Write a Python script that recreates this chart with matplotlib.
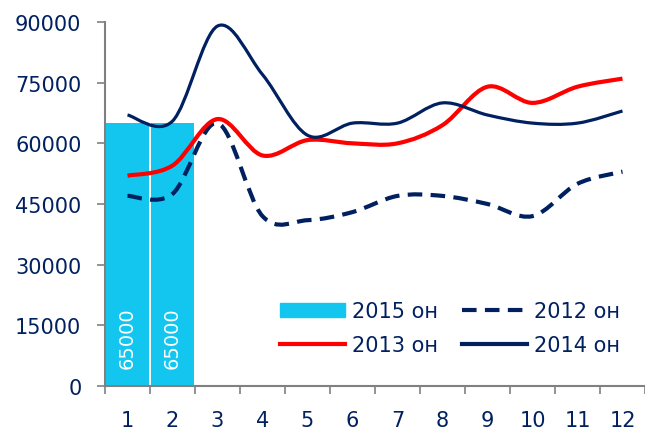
import matplotlib.pyplot as plt
import numpy as np
from matplotlib.path import Path
from matplotlib.patches import PathPatch, Patch
from matplotlib.lines import Line2D
from matplotlib.ticker import FixedLocator, NullFormatter

# Data
months = list(range(1, 13))
sales_2015 = [65000, 65000]
sales_2012 = [47000, 47500, 65000, 42000, 41000, 43000, 47000, 47000, 45000, 42000, 50000, 53000]
sales_2013 = [52000, 54500, 66000, 57000, 60800, 60000, 60000, 64500, 74000, 70000, 74000, 76000]
sales_2014 = [67000, 65500, 89000, 77000, 62000, 65000, 65000, 70000, 67000, 65000, 65000, 68000]
y_ticks = [0, 15000, 30000, 45000, 60000, 75000, 90000]

navy = '#002060'
cyan = '#13C6F0'
red = '#FF0000'

plt.rcParams['font.family'] = ['DejaVu Sans']


def smooth_path(xs, ys):
    # Excel style smoothed line: cubic bezier segments through the data points
    pts = np.column_stack([xs, ys]).astype(float)
    n = len(pts)
    verts = [pts[0]]
    codes = [Path.MOVETO]
    for i in range(n - 1):
        p0 = pts[i - 1] if i > 0 else pts[i]
        p1 = pts[i]
        p2 = pts[i + 1]
        p3 = pts[i + 2] if i + 2 < n else pts[i + 1]
        c1 = p1 + (p2 - p0) / 6
        c2 = p2 - (p3 - p1) / 6
        verts += [c1, c2, p2]
        codes += [Path.CURVE4] * 3
    return Path(verts, codes)


fig = plt.figure(figsize=(6.45, 4.31), dpi=100)
ax = fig.add_axes([105 / 645, 1 - 387 / 431, 540 / 645, 364 / 431])

bars = ax.bar(months[:2], sales_2015, width=0.94, color=cyan, zorder=1)
for b, v in zip(bars, sales_2015):
    ax.annotate(f'{v}', xy=(b.get_x() + b.get_width() / 2, 0), xytext=(0, 13),
                textcoords='offset points', rotation=90, ha='center', va='bottom',
                color='white', fontsize=14)

ax.add_patch(PathPatch(smooth_path(months, sales_2012), fill=False, edgecolor=navy,
                       lw=3, linestyle=(0, (3.5, 2)), zorder=3))
ax.add_patch(PathPatch(smooth_path(months, sales_2013), fill=False, edgecolor=red,
                       lw=3, zorder=3))
ax.add_patch(PathPatch(smooth_path(months, sales_2014), fill=False, edgecolor=navy,
                       lw=2.3, zorder=4))

ax.set_xlim(0.5, 12.5)
ax.set_ylim(0, 90000)

ax.xaxis.set_major_locator(FixedLocator(np.arange(0.5, 13, 1)))
ax.xaxis.set_major_formatter(NullFormatter())
ax.xaxis.set_minor_locator(FixedLocator(months))
ax.set_xticklabels([str(m) for m in months], minor=True)
ax.tick_params(axis='x', which='major', length=6, color='#808080', width=1.2)
ax.tick_params(axis='x', which='minor', length=0, pad=17, labelsize=15, labelcolor=navy)

ax.set_yticks(y_ticks)
ax.set_yticklabels([str(t) for t in y_ticks])
ax.tick_params(axis='y', length=6, color='#808080', width=1.2, pad=11,
               labelsize=15, labelcolor=navy)

for s in ['top', 'right']:
    ax.spines[s].set_visible(False)
for s in ['left', 'bottom']:
    ax.spines[s].set_color('#808080')
    ax.spines[s].set_linewidth(1.5)

handles = [
    Patch(color=cyan, label='2015 он'),
    Line2D([], [], color=red, lw=3, label='2013 он'),
    Line2D([], [], color=navy, lw=3, linestyle=(0, (3.5, 2)), label='2012 он'),
    Line2D([], [], color=navy, lw=3, label='2014 он'),
]
leg = fig.legend(handles=handles, ncol=2, loc='center', bbox_to_anchor=(0.698, 0.2366),
                 frameon=False, fontsize=15, handlelength=3.1, handletextpad=0.35,
                 columnspacing=1.15, labelspacing=0.65)
for t in leg.get_texts():
    t.set_color(navy)

fig.savefig('out.png', dpi=100)
